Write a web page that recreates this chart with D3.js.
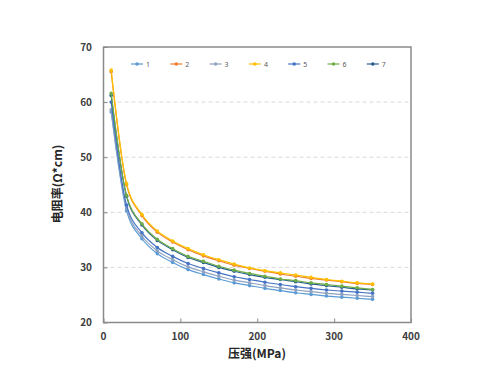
<!DOCTYPE html>
<html><head><meta charset="utf-8">
<script src="https://cdn.jsdelivr.net/npm/d3@7"></script>
<style>body{margin:0;background:#fff;} svg{display:block;}</style>
</head><body>
<svg id="c" width="498" height="382"></svg>
<script>
const pressure = [10,30,50,70,90,110,130,150,170,190,210,230,250,270,290,310,330,350];
const seriesNames = ["1","2","3","4","5","6","7"];
const s1 = [58.2,40.3,35.2,32.5,30.9,29.6,28.7,27.9,27.2,26.7,26.2,25.8,25.4,25.1,24.8,24.6,24.4,24.2];
const s2 = [65.5,45.0,39.4,36.4,34.6,33.2,32.1,31.2,30.4,29.8,29.3,28.8,28.4,28.0,27.7,27.4,27.1,26.9];
const s3 = [58.6,40.8,35.7,33.0,31.4,30.1,29.2,28.4,27.7,27.2,26.7,26.3,25.9,25.6,25.3,25.1,24.9,24.7];
const s4 = [65.8,45.2,39.6,36.6,34.8,33.4,32.3,31.4,30.6,29.9,29.4,29.0,28.6,28.2,27.8,27.5,27.2,27.0];
const s5 = [60.0,41.3,36.3,33.6,32.0,30.7,29.8,29.0,28.3,27.8,27.3,26.9,26.5,26.2,25.9,25.7,25.5,25.3];
const s6 = [61.6,43.1,37.9,35.1,33.4,32.0,31.1,30.2,29.5,28.9,28.4,27.9,27.6,27.2,26.9,26.6,26.3,26.0];
const s7 = [61.2,42.9,37.7,34.9,33.2,31.8,30.9,30.0,29.3,28.7,28.2,27.8,27.4,27.0,26.7,26.4,26.1,25.9];
const colors = ["#5B9BD5","#ED7D31","#8FA3C0","#FFC000","#4472C4","#70AD47","#255E91"];
const xTicks = [0,100,200,300,400];
const yTicks = [20,30,40,50,60,70];

const allSeries = [s1,s2,s3,s4,s5,s6,s7];
const drawOrder = [0,2,4,1,6,5,3];

const svg = d3.select("#c");
const L=103.5, R=411, T=47, B=322.5;
const x = d3.scaleLinear().domain([0,400]).range([L,R]);
const y = d3.scaleLinear().domain([20,70]).range([B,T]);

// gridlines
svg.append("g").selectAll("line").data(yTicks.filter(d=>d>20&&d<70)).join("line")
  .attr("x1",L).attr("x2",R).attr("y1",d=>y(d)).attr("y2",d=>y(d))
  .attr("stroke","#d9d9d9").attr("stroke-width",1).attr("stroke-dasharray","4,3");

// axes (inner ticks)
const xAxis = svg.append("g").attr("transform",`translate(0,${B})`)
  .call(d3.axisTop(x).tickValues(xTicks).tickSize(4).tickFormat(""));
const yAxis = svg.append("g").attr("transform",`translate(${L},0)`)
  .call(d3.axisRight(y).tickValues(yTicks).tickSize(4).tickFormat(""));
[xAxis,yAxis].forEach(g=>{g.select(".domain").remove(); g.selectAll("line").attr("stroke","#888");});

// frame
svg.append("rect").attr("x",L).attr("y",T).attr("width",R-L).attr("height",B-T)
  .attr("fill","none").attr("stroke","#8a8a8a").attr("stroke-width",1.5);

// tick labels
svg.append("g").selectAll("text").data(xTicks).join("text")
  .attr("x",d=>x(d)).attr("y",340).attr("text-anchor","middle")
  .attr("font-family","Noto Sans CJK SC, sans-serif").attr("font-weight","bold")
  .attr("font-size",10).attr("fill","#404040").text(d=>d);
svg.append("g").selectAll("text").data(yTicks).join("text")
  .attr("x",92).attr("y",d=>y(d)+3.5).attr("text-anchor","end")
  .attr("font-family","Noto Sans CJK SC, sans-serif").attr("font-weight","bold")
  .attr("font-size",10).attr("fill","#404040").text(d=>d);

// axis titles
svg.append("text").attr("x",257).attr("y",358).attr("text-anchor","middle")
  .attr("font-family","Noto Sans CJK SC, sans-serif").attr("font-weight","bold")
  .attr("font-size",12).attr("fill","#262626").text("压强(MPa)");
svg.append("text").attr("transform","translate(62,184) rotate(-90)").attr("text-anchor","middle")
  .attr("font-family","Noto Sans CJK SC, sans-serif").attr("font-weight","bold")
  .attr("font-size",12).attr("fill","#262626").text("电阻率(Ω*cm)");

// lines
const line = d3.line().x((d,i)=>x(pressure[i])).y(d=>y(d)).curve(d3.curveMonotoneX);
drawOrder.forEach(k=>{
  const g = svg.append("g");
  g.append("path").datum(allSeries[k]).attr("d",line).attr("fill","none")
    .attr("stroke",colors[k]).attr("stroke-width",1.2);
  g.selectAll("circle").data(allSeries[k]).join("circle")
    .attr("cx",(d,i)=>x(pressure[i])).attr("cy",d=>y(d)).attr("r",1.8).attr("fill",colors[k]);
});

// legend
const lg = svg.append("g");
seriesNames.forEach((n,i)=>{
  const lx = 131 + i*39.3, ly = 64;
  lg.append("line").attr("x1",lx).attr("x2",lx+12).attr("y1",ly).attr("y2",ly)
    .attr("stroke",colors[i]).attr("stroke-width",1.2);
  lg.append("circle").attr("cx",lx+6).attr("cy",ly).attr("r",1.8).attr("fill",colors[i]);
  lg.append("text").attr("x",lx+15).attr("y",ly+2.5).attr("font-size",7)
    .attr("font-family","Noto Sans, sans-serif").attr("fill","#595959").text(n);
});
</script>
</body></html>
